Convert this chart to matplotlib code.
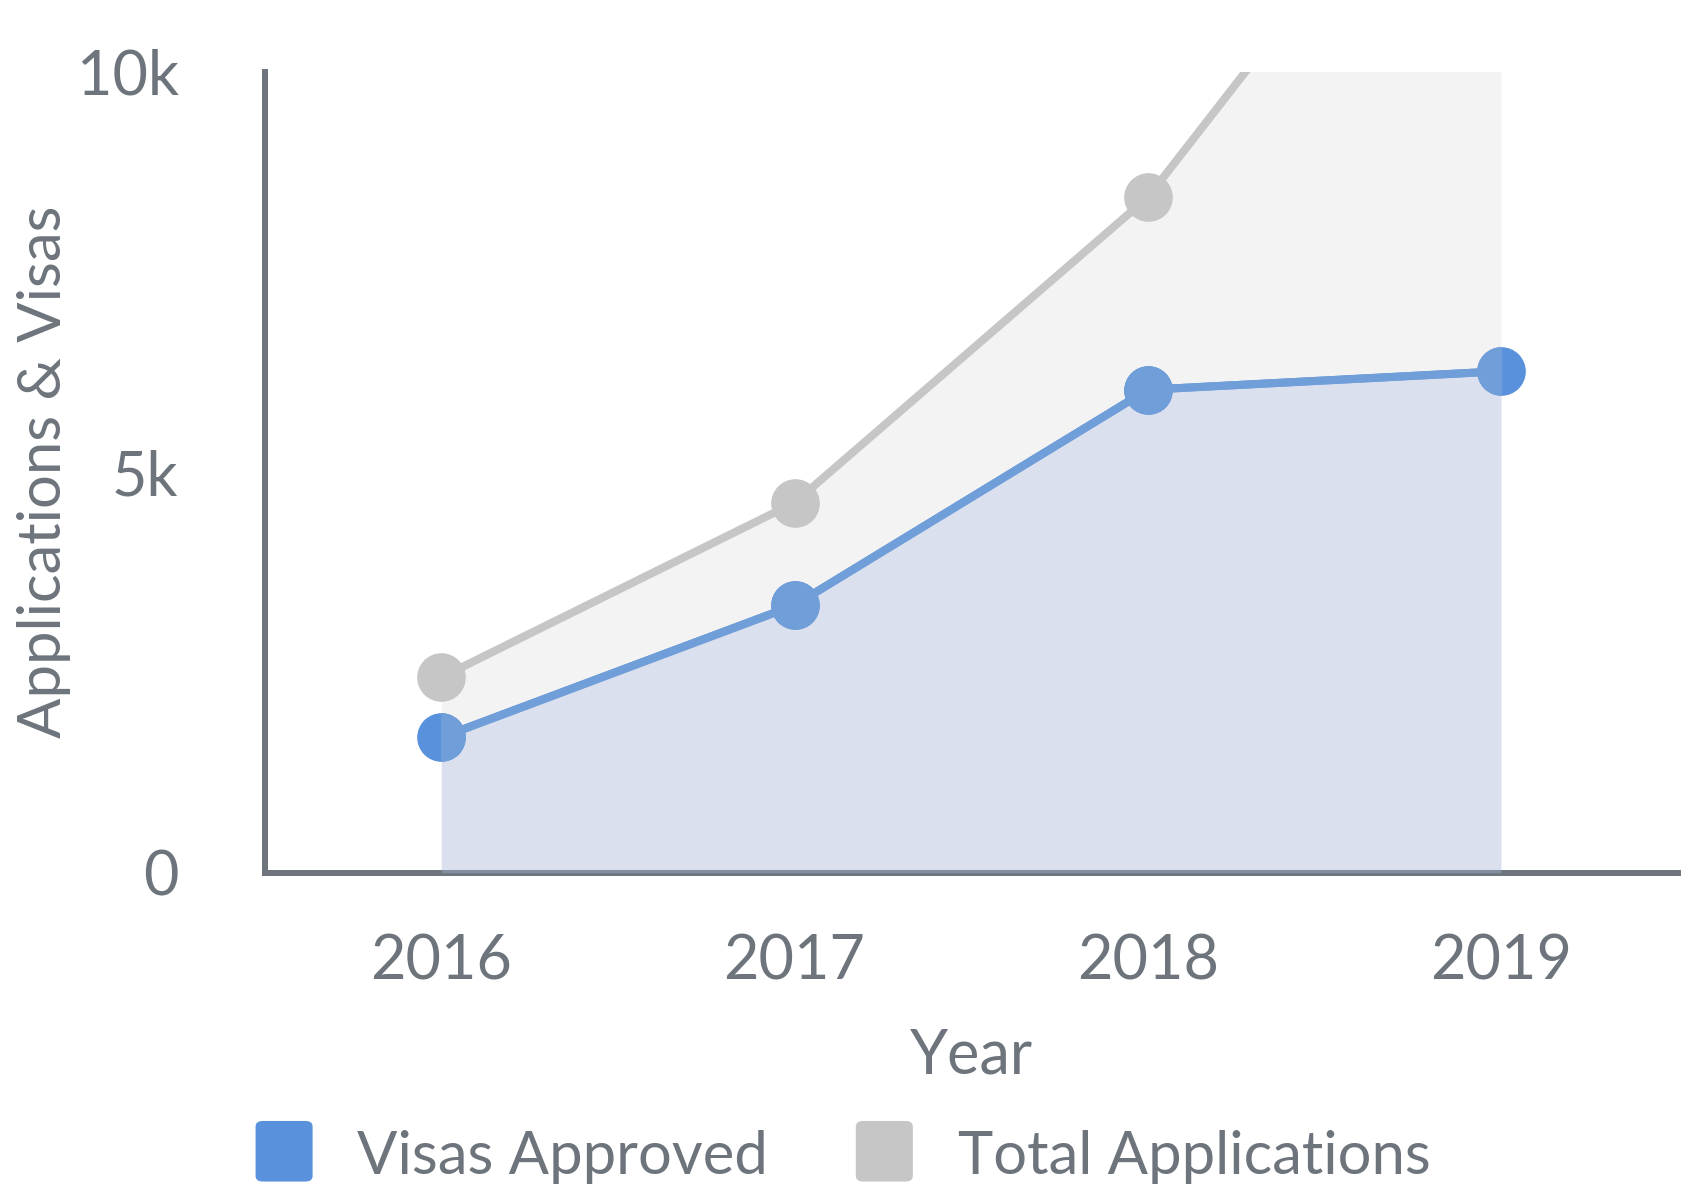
import matplotlib.pyplot as plt
from matplotlib.patches import FancyBboxPatch, Rectangle
from matplotlib.ticker import FuncFormatter

years = [2016, 2017, 2018, 2019]
visas = [1690, 3340, 6030, 6260]
total = [2440, 4620, 8430, 14100]
yticks = [0, 5000, 10000]

grey_txt = '#6d747c'
blue = '#5a91dc'
blue_light = '#709ed8'
grey = '#c6c6c6'

plt.rcParams['font.family'] = ['Lato', 'DejaVu Sans']

fig = plt.figure(figsize=(16.86, 11.94), dpi=100)
ax = fig.add_axes([0.157, 0.269, 0.838, 0.671])

ax.fill_between(years, 0, total, color='#f3f3f3', lw=0, zorder=1)
ax.plot(years, total, color=grey, lw=5.8, marker='o', ms=34, zorder=2)
ax.plot(years, visas, color=blue, lw=5.8, marker='o', ms=34, zorder=2.5)
ax.fill_between(years, 0, visas, color='#acbee4', alpha=0.34, lw=0, zorder=3)
# the part of the blue series inside the shaded x-range looks washed out
light, = ax.plot(years, visas, color=blue_light, lw=5.8, marker='o', ms=34, zorder=4)
clip = Rectangle((years[0], -1e5), years[-1] - years[0], 2e5, transform=ax.transData,
                 visible=False)
ax.add_patch(clip)
light.set_clip_path(clip)

ax.set_xlim(2015.5, 2019.5)
ax.set_ylim(0, 10000)
ax.set_xticks(years)
ax.set_yticks(yticks)
ax.yaxis.set_major_formatter(FuncFormatter(lambda v, p: '0' if v == 0 else f'{int(v/1000)}k'))
ax.tick_params(length=0, labelsize=44, colors=grey_txt)
ax.tick_params(axis='y', pad=62)
ax.tick_params(axis='x', pad=44)

for s in ['top', 'right']:
    ax.spines[s].set_visible(False)
for s in ['left', 'bottom']:
    ax.spines[s].set_color(grey_txt)
    ax.spines[s].set_linewidth(4.3)

ax.set_xlabel('Year', fontsize=44, color=grey_txt, labelpad=26)
ax.set_ylabel('Applications & Visas', fontsize=43, color=grey_txt)
ax.yaxis.set_label_coords(-0.137, 0.5)

# legend
for x0, col, lab, tx in [(0.152, blue, 'Visas Approved', 0.212),
                         (0.508, grey, 'Total Applications', 0.568)]:
    fig.patches.append(FancyBboxPatch((x0, 0.011), 0.033, 0.0496,
                                      boxstyle='round,pad=0,rounding_size=0.004',
                                      transform=fig.transFigure, color=col))
    fig.text(tx, 0.031, lab, fontsize=43, color=grey_txt, va='center', ha='left')

fig.savefig('out.png', dpi=100)
